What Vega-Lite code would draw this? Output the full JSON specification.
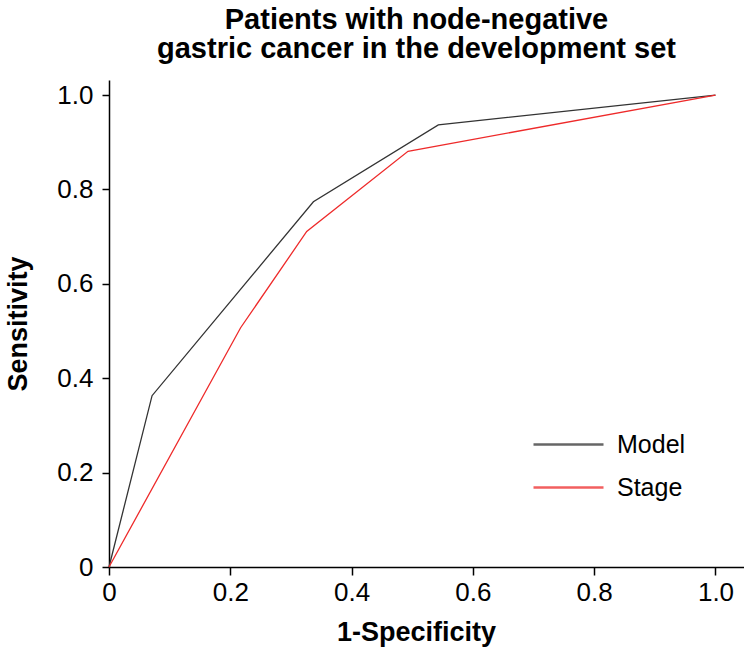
{
  "$schema": "https://vega.github.io/schema/vega-lite/v6.json",
  "autosize": "none",
  "padding": {"left": 109, "top": 80, "right": 0, "bottom": 89},
  "width": 635,
  "height": 487,
  "background": "white",
  "title": {
    "text": ["Patients with node-negative", "gastric cancer in the development set"],
    "font": "Liberation Sans",
    "fontSize": 29,
    "fontWeight": "bold",
    "color": "black",
    "anchor": "middle",
    "frame": "group",
    "dx": -10,
    "offset": 16,
    "lineHeight": 29
  },
  "data": {
    "values": [
      {"fpr": 0, "tpr": 0, "curve": "Model", "ord": 0},
      {"fpr": 0.071, "tpr": 0.363, "curve": "Model", "ord": 1},
      {"fpr": 0.337, "tpr": 0.774, "curve": "Model", "ord": 2},
      {"fpr": 0.543, "tpr": 0.937, "curve": "Model", "ord": 3},
      {"fpr": 1, "tpr": 1, "curve": "Model", "ord": 4},
      {"fpr": 0, "tpr": 0, "curve": "Stage", "ord": 0},
      {"fpr": 0.217, "tpr": 0.507, "curve": "Stage", "ord": 1},
      {"fpr": 0.326, "tpr": 0.711, "curve": "Stage", "ord": 2},
      {"fpr": 0.493, "tpr": 0.881, "curve": "Stage", "ord": 3},
      {"fpr": 1, "tpr": 1, "curve": "Stage", "ord": 4}
    ]
  },
  "mark": {"type": "line", "strokeWidth": 1.3, "clip": false},
  "encoding": {
    "x": {
      "field": "fpr",
      "type": "quantitative",
      "scale": {"domain": [0, 1.047], "nice": false, "zero": true},
      "axis": {
        "title": "1-Specificity",
        "values": [0, 0.2, 0.4, 0.6, 0.8, 1.0],
        "labelExpr": "datum.value == 0 ? '0' : format(datum.value, '.1f')",
        "grid": false,
        "domainColor": "black",
        "domainWidth": 1.5,
        "tickColor": "black",
        "tickWidth": 1.5,
        "tickSize": 8,
        "labelFont": "Liberation Sans",
        "labelFontSize": 26,
        "labelColor": "black",
        "labelPadding": 4,
        "labelFlush": false,
        "titleFont": "Liberation Sans",
        "titleFontSize": 27,
        "titleFontWeight": "bold",
        "titleColor": "black",
        "titlePadding": 14,
        "titleX": 307
      }
    },
    "y": {
      "field": "tpr",
      "type": "quantitative",
      "scale": {"domain": [0, 1.032], "nice": false, "zero": true},
      "axis": {
        "title": "Sensitivity",
        "values": [0, 0.2, 0.4, 0.6, 0.8, 1.0],
        "labelExpr": "datum.value == 0 ? '0' : format(datum.value, '.1f')",
        "grid": false,
        "domainColor": "black",
        "domainWidth": 1.5,
        "tickColor": "black",
        "tickWidth": 1.5,
        "tickSize": 7,
        "labelFont": "Liberation Sans",
        "labelFontSize": 26,
        "labelColor": "black",
        "labelPadding": 9,
        "labelFlush": false,
        "titleFont": "Liberation Sans",
        "titleFontSize": 27,
        "titleFontWeight": "bold",
        "titleColor": "black",
        "titlePadding": 24
      }
    },
    "color": {
      "field": "curve",
      "type": "nominal",
      "scale": {"domain": ["Model", "Stage"], "range": ["#333333", "#ee2a2a"]},
      "legend": {
        "title": null,
        "orient": "none",
        "legendX": 423,
        "legendY": 343,
        "symbolType": "stroke",
        "symbolSize": 4900,
        "symbolStrokeWidth": 2.5,
        "symbolOpacity": 0.75,
        "clipHeight": 43,
        "rowPadding": 0,
        "labelFont": "Liberation Sans",
        "labelFontSize": 25,
        "labelColor": "black",
        "labelOffset": 12
      }
    },
    "order": {"field": "ord", "type": "quantitative"}
  },
  "config": {"view": {"stroke": null}}
}
